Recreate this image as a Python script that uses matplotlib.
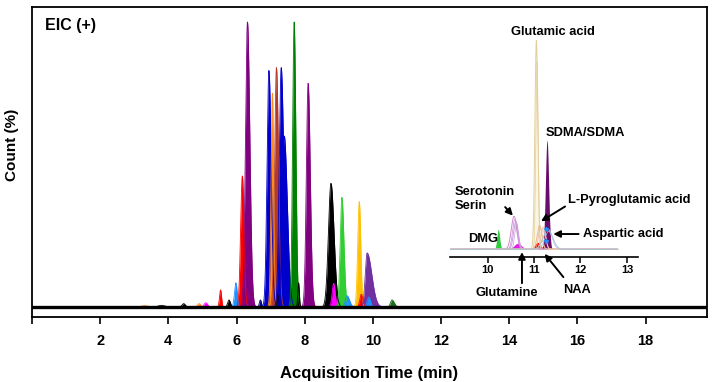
""" EIC (+) chromatogram with zoomed inset """

import matplotlib.pyplot as plt
import numpy as np

plt.rcParams['font.family'] = ['Liberation Sans', 'DejaVu Sans']
plt.rcParams['font.weight'] = 'bold'

# main trace peaks: retention time (min), height (% of max), width (min), tailing, colour
main_rt = [3.30, 3.80, 4.45, 4.90, 5.10, 5.53, 5.78, 5.98, 6.17, 6.32, 6.70,
           6.95, 7.05, 7.17, 7.21, 7.31, 7.40, 7.69, 7.82, 8.10, 8.77, 8.85,
           9.09, 9.24, 9.60, 9.66, 9.83, 9.88, 10.56]
main_height = [0.5, 0.6, 1.2, 1.2, 1.5, 6.0, 2.5, 8.5, 46.0, 100.0, 2.5,
               83.0, 75.0, 84.0, 4.5, 84.0, 60.0, 100.0, 8.5, 78.5, 43.4, 8.3,
               38.5, 4.0, 37.0, 4.5, 19.0, 3.5, 2.5]
main_width = [0.10, 0.10, 0.05, 0.05, 0.05, 0.03, 0.04, 0.04, 0.05, 0.058, 0.03,
              0.055, 0.038, 0.052, 0.02, 0.058, 0.06, 0.045, 0.022, 0.052, 0.075, 0.045,
              0.05, 0.05, 0.045, 0.045, 0.055, 0.05, 0.045]
main_tail = [1.0, 1.0, 1.0, 1.0, 1.0, 1.0, 1.0, 1.0, 1.0, 1.2, 1.0,
             1.2, 1.0, 1.2, 1.0, 1.3, 1.5, 1.1, 1.0, 1.2, 1.2, 1.0,
             1.2, 1.5, 1.0, 1.0, 2.5, 1.0, 1.5]
main_color = ['#ff8c1a', 'black', 'black', '#ff8c1a', '#ff00ff', '#ff0000', 'black',
              '#1e90ff', '#ff0000', '#800080', '#000080', '#0000cd', '#ff8c1a',
              '#b33a2a', 'black', '#0000cd', '#0000cd', '#008000', 'black',
              '#800080', 'black', '#ff00ff', '#32cd32', '#1e90ff', '#ffc000',
              '#ff0000', '#7030a0', '#1e90ff', '#1f6b1f']

# inset peaks (height in inset units)
ins_fill_rt = [10.23, 10.65, 11.08, 11.28]
ins_fill_height = [20, 6, 7, 109]
ins_fill_width = [0.03, 0.08, 0.06, 0.035]
ins_fill_color = ['#2ecc40', '#e020e0', '#ff0000', '#6a0d6a']

ins_line_rt = [11.05, 10.57, 10.61, 11.12, 11.20, 11.30]
ins_line_height = [209, 33, 28, 24, 22, 20]
ins_line_width = [0.032, 0.06, 0.05, 0.05, 0.05, 0.10]
ins_line_color = ['#e3cf9c', '#d08ad0', '#c9a0e0', '#e8b894', '#f0c8a0', '#a9c2d8']

aspartic_x = [11.25, 11.25]
aspartic_y = [20.3, 8.6]


def peak(x, c, h, w, tail=1.0):
    d = x - c
    s = np.where(d < 0, w, w * tail)
    return h * np.exp(-0.5 * (d / s) ** 2)


fig = plt.figure(figsize=(7.16, 3.82), dpi=100)
ax = fig.add_axes([0.0447, 0.170, 0.9427, 0.8117])

t = np.linspace(0, 19.8, 8000)
for c, h, w, tl, col in zip(main_rt, main_height, main_width, main_tail, main_color):
    y = peak(t, c, h, w, tl)
    ax.fill_between(t, 0, y, color=col, lw=0)
    ax.plot(t, y, color=col, lw=0.6)
ax.plot([0, 19.8], [0, 0], color='black', lw=2.4)

ax.set_xlim(0, 19.8)
ax.set_ylim(-3.51, 105.26)
ax.set_yticks([])
ax.set_xticks(np.arange(0, 20, 2))
ax.set_xticklabels([''] + [str(v) for v in range(2, 20, 2)])
ax.tick_params(axis='x', direction='out', length=5, width=1.2, pad=7, labelsize=10.5)
for sp in ax.spines.values():
    sp.set_linewidth(1.3)
ax.set_xlabel('Acquisition Time (min)', fontsize=12, fontweight='bold')
ax.xaxis.set_label_coords(0.5, -0.158)
ax.set_ylabel('Count (%)', fontsize=11, fontweight='bold')
ax.yaxis.set_label_coords(-0.019, 0.555)
ax.text(0.019, 0.939, 'EIC (+)', transform=ax.transAxes, fontsize=11.5,
        fontweight='bold', va='center', ha='left')

# inset
ins = fig.add_axes([0.6285, 0.328, 0.2626, 0.58])
ins.patch.set_alpha(0)
ti = np.linspace(9.19, 12.8, 3000)
ins.plot(ti, np.zeros_like(ti), color='#c8c8c8', lw=0.8)
for c, h, w, col in zip(ins_line_rt, ins_line_height, ins_line_width, ins_line_color):
    y = peak(ti, c, h, w)
    if h > 100:
        ins.fill_between(ti, 0, y, color='#fbf5e4', lw=0)
    ins.plot(ti, y, color=col, lw=0.7)
    ins.plot(ti, peak(ti, c + 0.015, h * 0.9, w * 0.8), color=col, lw=0.5)
for c, h, w, col in zip(ins_fill_rt, ins_fill_height, ins_fill_width, ins_fill_color):
    y = peak(ti, c, h, w)
    ins.fill_between(ti, 0, y, color=col, lw=0)
ins.scatter(aspartic_x, aspartic_y, s=8, color='#1e90ff', marker='*', zorder=5)

ins.set_xlim(9.19, 13.24)
ins.set_ylim(-7.4, 214.3)
ins.set_yticks([])
ins.set_xticks([10, 11, 12, 13])
ins.tick_params(axis='x', direction='out', length=4, width=1.1, pad=2, labelsize=8)
for side in ['top', 'right', 'left']:
    ins.spines[side].set_visible(False)
ins.spines['bottom'].set_linewidth(1.2)

fs = 9.3
kw = dict(fontsize=fs, fontweight='bold', annotation_clip=False)
arrow = dict(arrowstyle='-|>', color='black', lw=1.4, mutation_scale=10)
ins.text(11.405, 217.6, 'Glutamic acid', ha='center', va='center', fontsize=fs,
         fontweight='bold', clip_on=False)
ins.text(11.24, 116.3, 'SDMA/SDMA', ha='left', va='center', fontsize=fs, fontweight='bold')
ins.text(9.57, 10.3, 'DMG', ha='left', va='center', fontsize=fs, fontweight='bold')
ins.annotate('Serotonin\nSerin', xy=(10.585, 31.6), xytext=(9.285, 50.3),
             ha='left', va='center', linespacing=1.15, **kw)
ins.annotate('', xy=(10.585, 31.6), xytext=(10.338, 44.3), arrowprops=arrow, **kw)
ins.annotate('L-Pyroglutamic acid', xy=(11.10, 26.6), xytext=(11.726, 49.3),
             ha='left', va='center', **kw)
ins.annotate('', xy=(11.10, 26.6), xytext=(11.72, 44.3), arrowprops=arrow, **kw)
ins.annotate('Aspartic acid', xy=(11.355, 15.3), xytext=(12.047, 15.3),
             ha='left', va='center', **kw)
ins.annotate('', xy=(11.355, 15.3), xytext=(12.02, 15.3), arrowprops=arrow, **kw)
ins.annotate('Glutamine', xy=(10.74, 0), xytext=(10.42, -44),
             ha='center', va='center', **kw)
ins.annotate('', xy=(10.74, 0), xytext=(10.74, -36.7), arrowprops=arrow, **kw)
ins.annotate('NAA', xy=(11.19, -2.4), xytext=(11.92, -40.7),
             ha='center', va='center', **kw)
ins.annotate('', xy=(11.19, -2.4), xytext=(11.67, -30), arrowprops=arrow, **kw)

fig.savefig('out.png', dpi=100)
